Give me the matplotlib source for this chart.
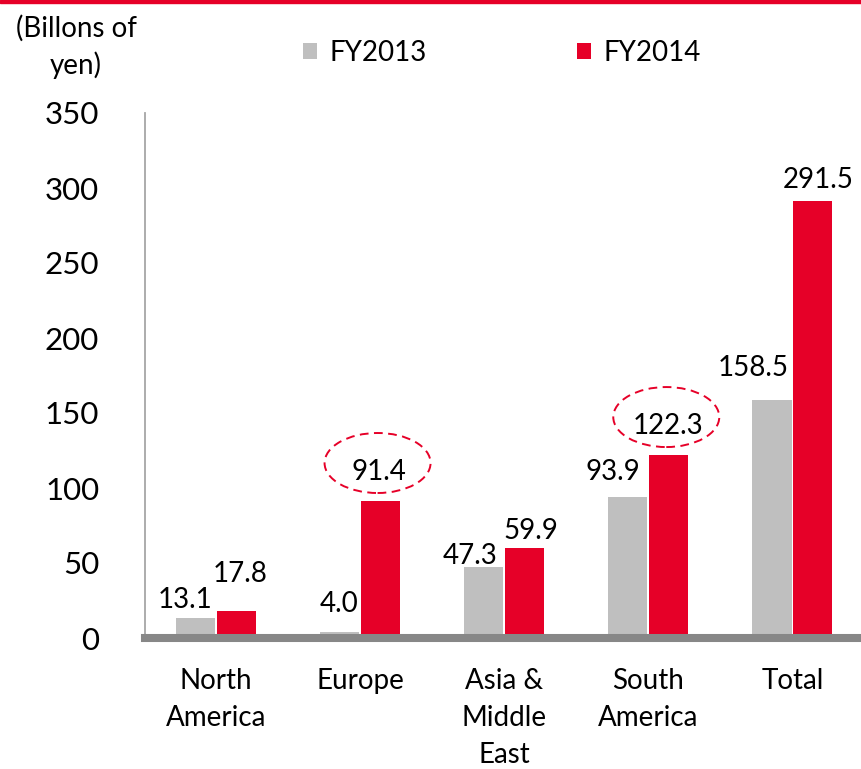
import matplotlib
matplotlib.use("Agg")
import matplotlib.pyplot as plt
from matplotlib.patches import Ellipse, Rectangle
import numpy as np

# ---- data ----
categories = ["North\nAmerica", "Europe", "Asia &\nMiddle\nEast", "South\nAmerica", "Total"]
fy2013 = [13.1, 4.0, 47.3, 93.9, 158.5]
fy2014 = [17.8, 91.4, 59.9, 122.3, 291.5]
series_names = ["FY2013", "FY2014"]
yticks = [0, 50, 100, 150, 200, 250, 300, 350]
unit_label = "(Billons of\nyen)"
highlight = [1, 3]  # FY2014 labels circled

# ---- style / layout ----
GRAY = "#BFBFBF"
RED = "#E60028"
FONT = "Lato"
W, H = 861, 769
DPI = 100
plt.rcParams["font.family"] = [FONT, "DejaVu Sans"]

# label offsets in pixels (dx, up) from bar top-centre to label digit centre
gray_off = [(-10.5, 20), (-1, 29.5), (-14, 13), (-14.5, 27), (-18.5, 34)]
red_off = [(3.5, 39), (-1.5, 31.4), (6.5, 19), (-1, 31), (5.5, 23)]

fig = plt.figure(figsize=(W / DPI, H / DPI), dpi=DPI)
ax = fig.add_axes([145 / W, 131 / H, 716 / W, 525 / H])

x = np.arange(len(categories))
bw = 0.272
off = 0.142
b1 = ax.bar(x - off, fy2013, bw, color=GRAY, label=series_names[0], zorder=2)
b2 = ax.bar(x + off, fy2014, bw, color=RED, label=series_names[1], zorder=2)

ax.set_xlim(-0.4927, 4.476)
ax.set_ylim(0, 350)
ax.set_yticks(yticks)
ax.set_yticklabels([str(v) for v in yticks], fontsize=22.5)
ax.set_xticks(x)
ax.set_xticklabels(categories, fontsize=20, linespacing=1.52)
ax.tick_params(axis="y", length=0, pad=33)
ax.tick_params(axis="x", length=0, pad=21.5)

for s in ["top", "right"]:
    ax.spines[s].set_visible(False)
ax.spines["left"].set_color("#A6A6A6")
ax.spines["left"].set_linewidth(1.3)
ax.spines["bottom"].set_color("#878787")
ax.spines["bottom"].set_linewidth(5.8)
ax.spines["bottom"].set_zorder(3)

DIGIT_HALF = 10  # px, half of digit height


def put_labels(bars, vals, offs, circle_idx=()):
    for i, (rect, v, (dx, up)) in enumerate(zip(bars, vals, offs)):
        xc = rect.get_x() + rect.get_width() / 2
        ax.annotate(f"{v:.1f}", xy=(xc, v), xytext=(dx, up - DIGIT_HALF),
                    textcoords="offset pixels", ha="center", va="baseline",
                    fontsize=20, color="black", zorder=4, annotation_clip=False)
        if i in circle_idx:
            # ellipse centred slightly above the label's digit centre
            px, py = ax.transData.transform((xc, v))
            cx, cy = ax.transData.inverted().transform((px + dx - 1.5, py + up + 6.5))
            e = Ellipse((cx, cy), width=106 / 144.1, height=60 / 1.5,
                        fill=False, edgecolor=RED, linestyle=(0, (4.5, 2.8)),
                        linewidth=1.4, zorder=4, clip_on=False)
            ax.add_patch(e)


put_labels(b1, fy2013, gray_off)
put_labels(b2, fy2014, red_off, highlight)

# legend
leg = fig.legend(handles=[b1, b2], loc="center left",
                 bbox_to_anchor=(303 / W, 1 - 53 / H), ncol=2, frameon=False,
                 fontsize=20, handlelength=0.5, handleheight=0.5,
                 handletextpad=0.45, columnspacing=5.4, borderpad=0,
                 borderaxespad=0)

# unit label
fig.text(76 / W, 1 - 47 / H, unit_label, ha="center", va="center",
         fontsize=20, linespacing=1.45)

# top red rule
fig.patches.append(Rectangle((0, 1 - 3 / H), 1, 3 / H, transform=fig.transFigure,
                             color=RED, zorder=5))

fig.savefig("out.png", dpi=DPI)
